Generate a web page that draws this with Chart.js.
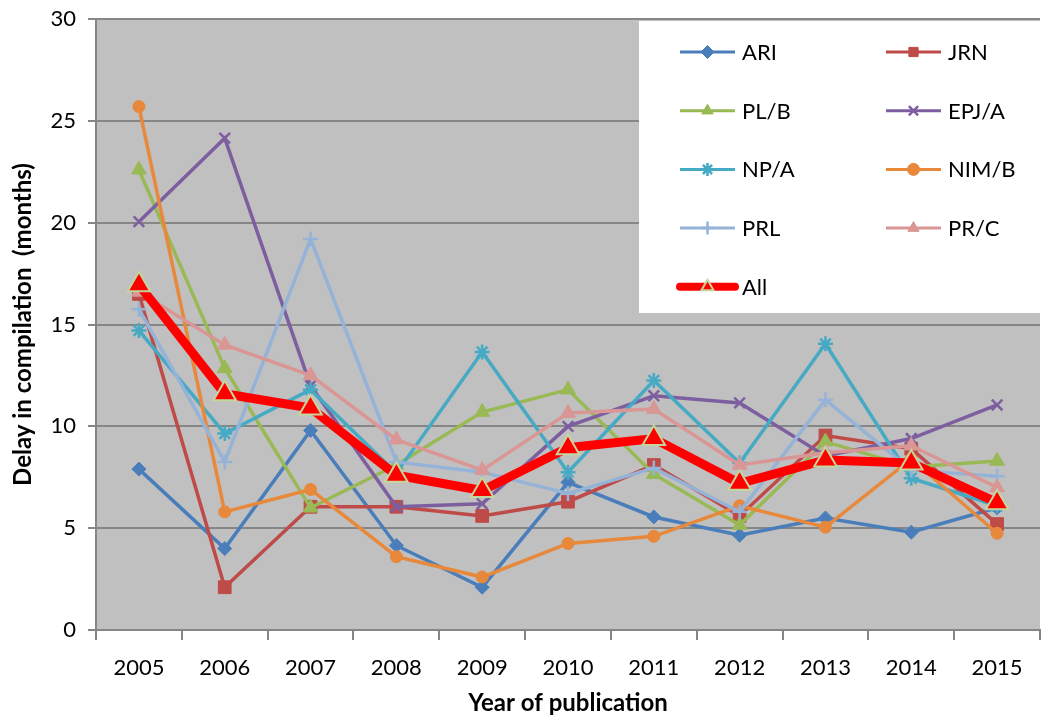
<!DOCTYPE html>
<html>
<head>
<meta charset="utf-8">
<script src="https://cdn.jsdelivr.net/npm/chart.js@4.4.1/dist/chart.umd.min.js"></script>
<style>
html,body{margin:0;padding:0;background:#fff;overflow:hidden;width:1045px;height:720px;}
#wrap{position:absolute;left:0;top:0;width:1055px;height:720px;}
</style>
</head>
<body>
<div id="wrap"><canvas id="c" width="1055" height="720"></canvas></div>
<script>
const years = ['2005','2006','2007','2008','2009','2010','2011','2012','2013','2014','2015'];
const yTicks = [0,5,10,15,20,25,30];
const ARI   = [7.9, 4.0, 9.8, 4.15, 2.1, 7.25, 5.55, 4.65, 5.5, 4.8, 6.0];
const JRN   = [16.5, 2.1, 6.05, 6.05, 5.6, 6.3, 8.1, 5.6, 9.55, 8.9, 5.2];
const PLB   = [22.6, 12.85, 6.0, 8.1, 10.7, 11.8, 7.65, 5.15, 9.25, 8.0, 8.3];
const EPJA  = [20.05, 24.15, 12.0, 6.05, 6.2, 10.0, 11.5, 11.15, 8.55, 9.4, 11.05];
const NPA   = [14.7, 9.65, 11.8, 7.7, 13.65, 7.75, 12.25, 8.2, 14.05, 7.45, 6.1];
const NIMB  = [25.7, 5.8, 6.9, 3.6, 2.6, 4.25, 4.6, 6.1, 5.05, 8.4, 4.75];
const PRL   = [15.75, 8.25, 19.2, 8.25, 7.75, 6.7, 7.95, 5.8, 11.3, 7.85, 7.55];
const PRC   = [16.6, 14.0, 12.5, 9.35, 7.85, 10.65, 10.85, 8.1, 8.7, 9.05, 7.0];
const ALL   = [16.95, 11.6, 10.9, 7.6, 6.85, 8.95, 9.4, 7.2, 8.35, 8.2, 6.25];

const FONT = 'Lato, "Open Sans", sans-serif';

function ds(label, data, color, style, radius, bw, order, extra) {
  return Object.assign({
    label, data,
    borderColor: color, backgroundColor: color,
    pointBackgroundColor: color, pointBorderColor: color,
    pointStyle: style, pointRadius: radius, pointHoverRadius: radius,
    pointBorderWidth: bw, borderWidth: 3.5, tension: 0, order
  }, extra || {});
}

const datasets = [
  ds('ARI', ARI, '#4A7EBB', 'rectRot', 7, 1, 10),
  ds('JRN', JRN, '#BE4B48', 'rect', 9, 1, 9),
  ds('PL/B', PLB, '#98B954', 'triangle', 8.5, 1, 8),
  ds('EPJ/A', EPJA, '#7D5FA0', 'crossRot', 7.5, 2.5, 7),
  ds('NP/A', NPA, '#46AAC4', 'star', 7.5, 2.5, 6),
  ds('NIM/B', NIMB, '#E8883A', 'circle', 6, 1, 5),
  ds('PRL', PRL, '#95B3D7', 'cross', 7.5, 2.5, 4),
  ds('PR/C', PRC, '#D99694', 'triangle', 8.5, 1, 3),
  ds('All', ALL, '#FF0000', 'triangle', 13, 2, 1, {
    borderWidth: 9, pointBorderColor: '#C3D69B', pointBorderWidth: 2
  })
];

const bgPlugin = {
  id: 'bg',
  beforeDraw(chart) {
    const {ctx, chartArea: a} = chart;
    ctx.save();
    ctx.fillStyle = '#C0C0C0';
    ctx.fillRect(a.left, a.top, a.right - a.left, a.bottom - a.top);
    ctx.restore();
  }
};

const legendPlugin = {
  id: 'boxLegend',
  afterDatasetsDraw(chart) {
    const {ctx, chartArea: a} = chart;
    ctx.save();
    ctx.fillStyle = '#FFFFFF';
    ctx.fillRect(639, a.top + 2, 1060 - 639, 313 - a.top - 2);
    chart.data.datasets.forEach((d, i) => {
      const col = i % 2, row = Math.floor(i / 2);
      const x0 = col ? 886 : 680;
      const x1 = x0 + 55;
      const y = 52 + row * 58.7;
      ctx.strokeStyle = d.borderColor;
      ctx.lineWidth = d.label === 'All' ? 8 : 3;
      ctx.lineCap = d.label === 'All' ? 'round' : 'butt';
      ctx.beginPath();
      ctx.moveTo(x0, y); ctx.lineTo(x1, y); ctx.stroke();
      ctx.fillStyle = d.pointBackgroundColor;
      ctx.strokeStyle = d.pointBorderColor;
      ctx.lineWidth = d.pointBorderWidth;
      const r = d.label === 'All' ? 7 : Math.min(d.pointRadius, 6.5);
      Chart.helpers.drawPoint(ctx, {pointStyle: d.pointStyle, radius: r, borderWidth: d.pointBorderWidth, rotation: 0}, (x0 + x1) / 2, y);
      ctx.fillStyle = '#000';
      ctx.font = '22px ' + FONT;
      ctx.textBaseline = 'middle';
      ctx.textAlign = 'left';
      ctx.fillText(d.label, x1 + 7, y + 1);
    });
    ctx.restore();
  }
};

new Chart(document.getElementById('c'), {
  type: 'line',
  data: { labels: years, datasets },
  options: {
    responsive: false,
    animation: false,
    devicePixelRatio: 1,
    layout: { padding: { top: 19, right: 0, left: 0, bottom: 0 } },
    plugins: { legend: { display: false }, tooltip: { enabled: false } },
    scales: {
      x: {
        offset: true,
        grid: { offset: true, drawOnChartArea: false, drawTicks: true, tickLength: 10, color: '#868686', lineWidth: 2 },
        border: { display: true, color: '#868686', width: 2 },
        ticks: { color: '#000', font: { family: FONT, size: 22 }, padding: 15, maxRotation: 0, autoSkip: false },
        title: { display: true, text: 'Year of publication', color: '#000', font: { family: FONT, size: 24, weight: 'bold' }, padding: { top: 0, bottom: 2.5 } },
        afterFit(s) { s.height = 90; s.paddingLeft = 0; s.paddingRight = 0; }
      },
      y: {
        min: 0, max: 30,
        afterBuildTicks(s) { s.ticks = yTicks.map(v => ({ value: v })); },
        grid: { color: '#868686', lineWidth: 2, tickLength: 8, drawTicks: true },
        border: { display: true, color: '#868686', width: 2 },
        ticks: { color: '#000', font: { family: FONT, size: 22 }, padding: 12 },
        title: { display: true, text: 'Delay in compilation  (months)', color: '#000', font: { family: FONT, size: 24, weight: 'bold' }, padding: { top: 9, bottom: 0 } },
        afterFit(s) { s.width = 96; s.paddingTop = 0; s.paddingBottom = 0; }
      }
    }
  },
  plugins: [bgPlugin, legendPlugin]
});
</script>
</body>
</html>
